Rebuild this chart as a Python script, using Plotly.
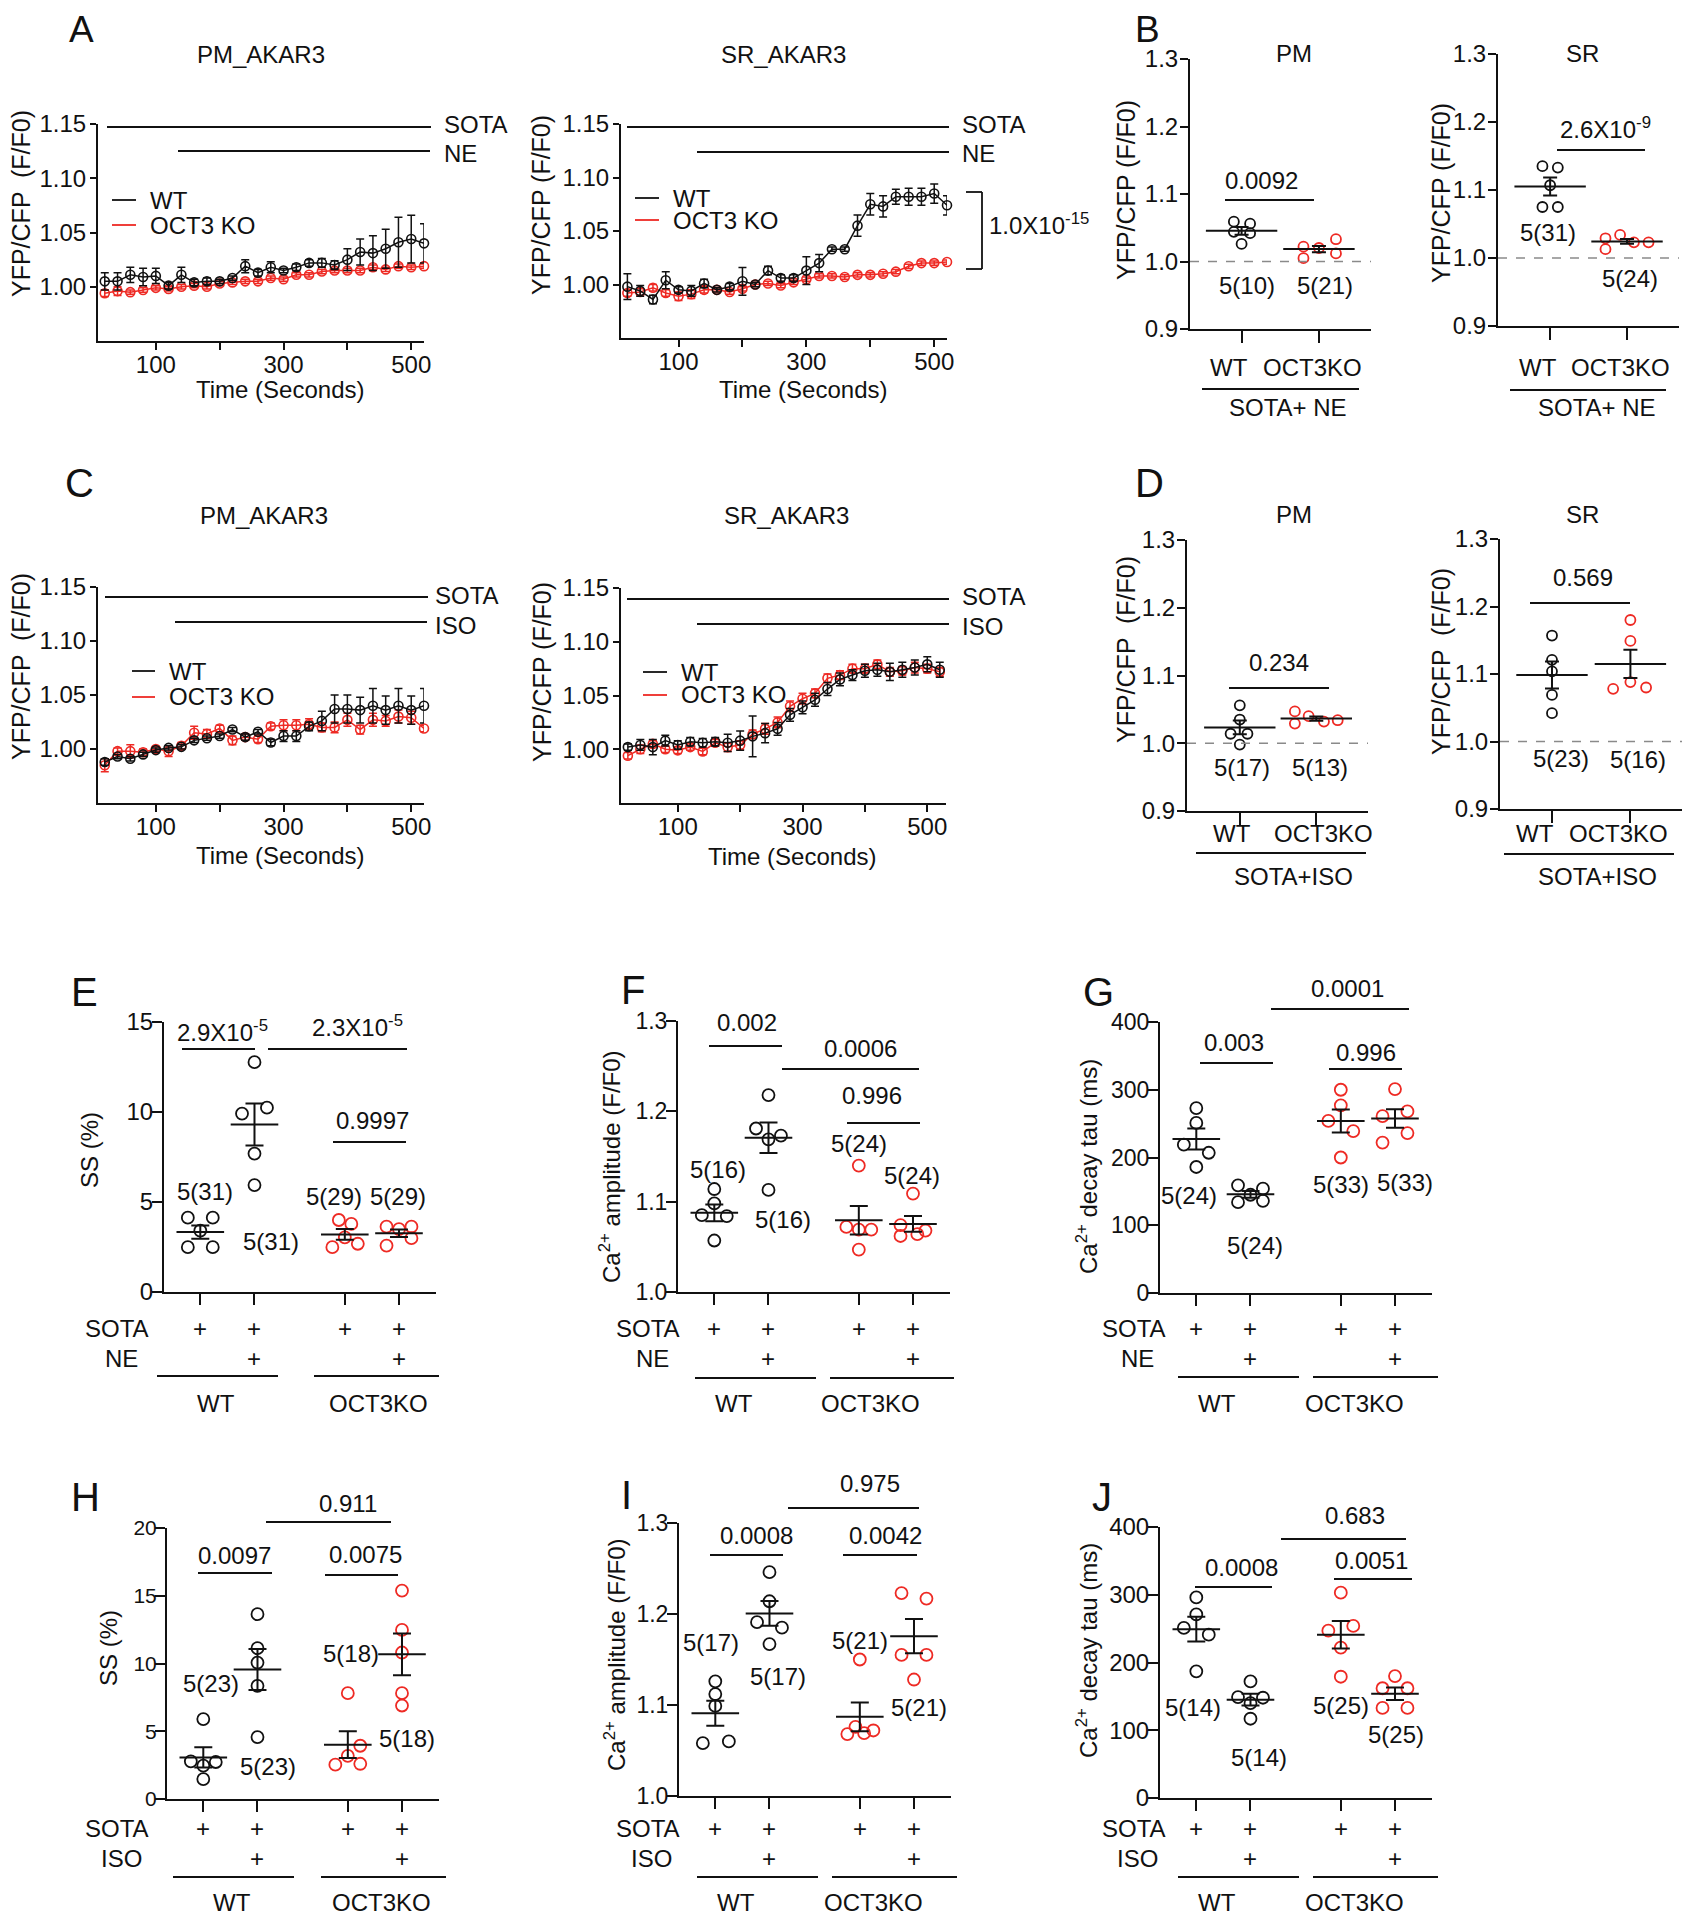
import numpy as np
import plotly.graph_objects as go

# target canvas (reference pixels) and the 8px page margin of the html body
W, H = 1691, 1920
OX, OY = 8, 8
WF, HF = W - OX, H - OY
FONT = "Liberation Sans, Arial, Helvetica, sans-serif"
INK = "#111111"
RED = "#ee2a24"
GREY = "#8a8a8a"

# ======================= DATA =======================
time_s = [20, 40, 60, 80, 100, 120, 140, 160, 180, 200, 220, 240, 260,
          280, 300, 320, 340, 360, 380, 400, 420, 440, 460, 480, 500, 520]
time_ticks = [100, 300, 500]
time_ticktext = ["100", "300", "500"]
time_minor = [200, 400]
fret_ticks = [1.00, 1.05, 1.10, 1.15]
fret_ticktext = ["1.00", "1.05", "1.10", "1.15"]

# A: SOTA + NE, PM_AKAR3
A_pm_wt = [1.005, 1.005, 1.011, 1.009, 1.010, 1.001, 1.011, 1.004, 1.005, 1.005, 1.008, 1.019, 1.013,
           1.018, 1.015, 1.018, 1.022, 1.022, 1.020, 1.025, 1.032, 1.031, 1.035, 1.041, 1.044, 1.040]
A_pm_wt_sem = [0.008, 0.008, 0.007, 0.008, 0.007, 0.003, 0.007, 0.003, 0.003, 0.002, 0.002, 0.006, 0.003,
               0.005, 0.002, 0.003, 0.003, 0.004, 0.004, 0.010, 0.012, 0.016, 0.018, 0.023, 0.022, 0.018]
A_pm_ko = [0.994, 0.996, 0.995, 0.997, 0.999, 0.998, 1.000, 1.001, 1.000, 1.003, 1.004, 1.005, 1.005,
           1.008, 1.007, 1.011, 1.011, 1.014, 1.015, 1.015, 1.015, 1.018, 1.016, 1.019, 1.018, 1.019]
A_pm_ko_sem = [0.003, 0.004, 0.002, 0.002, 0.002, 0.002, 0.002, 0.002, 0.002, 0.002, 0.002, 0.002, 0.002,
               0.002, 0.002, 0.002, 0.002, 0.002, 0.002, 0.002, 0.002, 0.002, 0.002, 0.002, 0.002, 0.002]
# A: SOTA + NE, SR_AKAR3
A_sr_wt = [0.998, 0.994, 0.986, 1.004, 0.995, 0.994, 1.001, 0.995, 0.998, 1.003, 1.000, 1.013, 1.006,
           1.006, 1.013, 1.020, 1.033, 1.033, 1.055, 1.075, 1.073, 1.082, 1.082, 1.082, 1.085, 1.074]
A_sr_wt_sem = [0.012, 0.005, 0.004, 0.008, 0.003, 0.005, 0.004, 0.002, 0.003, 0.013, 0.002, 0.004, 0.003,
               0.003, 0.013, 0.008, 0.002, 0.002, 0.010, 0.010, 0.010, 0.007, 0.008, 0.008, 0.009, 0.009]
A_sr_ko = [0.992, 0.993, 0.997, 0.992, 0.989, 0.991, 0.995, 0.995, 0.993, 0.996, 1.000, 1.001, 0.999,
           1.002, 1.005, 1.008, 1.008, 1.007, 1.009, 1.009, 1.010, 1.012, 1.017, 1.020, 1.020, 1.021]
A_sr_ko_sem = [0.003, 0.003, 0.003, 0.003, 0.004, 0.004, 0.003, 0.002, 0.002, 0.002, 0.002, 0.002, 0.002,
               0.002, 0.002, 0.002, 0.002, 0.002, 0.002, 0.002, 0.002, 0.002, 0.002, 0.002, 0.002, 0.002]
# C: SOTA + ISO, PM_AKAR3
C_pm_wt = [0.988, 0.993, 0.991, 0.995, 0.999, 1.001, 1.002, 1.008, 1.010, 1.012, 1.018, 1.011, 1.016,
           1.006, 1.012, 1.012, 1.021, 1.026, 1.037, 1.037, 1.036, 1.040, 1.036, 1.040, 1.036, 1.040]
C_pm_wt_sem = [0.003, 0.002, 0.002, 0.002, 0.002, 0.002, 0.002, 0.002, 0.002, 0.002, 0.002, 0.003, 0.002,
               0.003, 0.005, 0.005, 0.004, 0.009, 0.013, 0.013, 0.012, 0.016, 0.013, 0.016, 0.013, 0.016]
C_pm_ko = [0.985, 0.998, 0.998, 0.997, 1.000, 0.998, 1.003, 1.015, 1.014, 1.019, 1.008, 1.011, 1.009,
           1.021, 1.022, 1.022, 1.023, 1.020, 1.020, 1.027, 1.018, 1.027, 1.026, 1.030, 1.029, 1.019]
C_pm_ko_sem = [0.006, 0.003, 0.006, 0.003, 0.002, 0.005, 0.003, 0.006, 0.004, 0.003, 0.004, 0.003, 0.003,
               0.003, 0.005, 0.005, 0.005, 0.004, 0.005, 0.006, 0.004, 0.006, 0.005, 0.006, 0.006, 0.003]
# C: SOTA + ISO, SR_AKAR3
C_sr_wt = [1.002, 1.004, 1.002, 1.008, 1.004, 1.007, 1.006, 1.007, 1.006, 1.008, 1.012, 1.015, 1.019,
           1.032, 1.039, 1.046, 1.056, 1.065, 1.069, 1.073, 1.074, 1.072, 1.074, 1.076, 1.079, 1.074]
C_sr_wt_sem = [0.003, 0.005, 0.007, 0.005, 0.004, 0.004, 0.004, 0.004, 0.008, 0.009, 0.019, 0.009, 0.006,
               0.006, 0.006, 0.006, 0.006, 0.006, 0.005, 0.006, 0.006, 0.008, 0.007, 0.007, 0.007, 0.007]
C_sr_ko = [0.994, 1.000, 1.005, 1.000, 0.999, 1.002, 0.998, 1.006, 1.002, 1.004, 1.014, 1.019, 1.025,
           1.040, 1.047, 1.052, 1.066, 1.069, 1.075, 1.075, 1.079, 1.072, 1.073, 1.076, 1.075, 1.072]
C_sr_ko_sem = [0.003, 0.004, 0.003, 0.003, 0.003, 0.003, 0.003, 0.003, 0.004, 0.004, 0.004, 0.005, 0.005,
               0.005, 0.005, 0.004, 0.004, 0.004, 0.004, 0.004, 0.004, 0.004, 0.004, 0.005, 0.004, 0.004]

# B / D: YFP/CFP (F/F0) per animal
B_pm_wt = [1.059, 1.056, 1.044, 1.042, 1.026]
B_pm_ko = [1.022, 1.033, 1.020, 1.005, 1.012]
B_sr_wt = [1.135, 1.133, 1.107, 1.075, 1.075]
B_sr_ko = [1.029, 1.034, 1.013, 1.023, 1.023]
D_pm_wt = [1.056, 1.035, 1.014, 1.014, 0.998]
D_pm_ko = [1.047, 1.040, 1.029, 1.032, 1.034]
D_sr_wt = [1.157, 1.121, 1.104, 1.069, 1.042]
D_sr_ko = [1.180, 1.149, 1.078, 1.088, 1.080]
ratio_ticks = [0.9, 1.0, 1.1, 1.2, 1.3]
ratio_ticktext = ["0.9", "1.0", "1.1", "1.2", "1.3"]

# E-J: groups WT SOTA, WT SOTA+drug, KO SOTA, KO SOTA+drug
E_ss = [[4.13, 4.13, 3.41, 2.49, 2.49], [12.77, 9.91, 10.24, 7.69, 5.94],
        [4.00, 3.78, 3.04, 2.49, 2.68], [3.63, 3.49, 3.63, 2.58, 2.99]]
F_amp = [[1.114, 1.098, 1.085, 1.084, 1.057], [1.218, 1.181, 1.173, 1.169, 1.113],
         [1.140, 1.072, 1.069, 1.069, 1.047], [1.109, 1.074, 1.068, 1.062, 1.064]]
G_tau = [[273, 251, 219, 207, 186], [159, 154, 145, 134, 136],
         [300, 277, 254, 239, 200], [301, 268, 261, 236, 222]]
H_ss = [[5.90, 2.78, 2.73, 2.46, 1.47], [13.64, 11.13, 10.07, 8.35, 4.57],
        [7.81, 3.93, 3.19, 2.53, 2.60], [15.38, 12.48, 10.81, 7.81, 6.90]]
I_amp = [[1.126, 1.112, 1.099, 1.058, 1.060], [1.246, 1.214, 1.191, 1.185, 1.167],
         [1.150, 1.076, 1.068, 1.069, 1.072], [1.223, 1.217, 1.155, 1.155, 1.128]]
J_tau = [[296, 271, 251, 241, 187], [172, 149, 148, 140, 117],
         [303, 254, 247, 222, 179], [180, 162, 162, 133, 133]]
group_pos = [0, 1, 2.667, 3.667]

# ======================= LAYOUT / STYLE =======================
# horizontal beeswarm offsets (category units)
B_pm_wt_off = [-0.10, 0.11, -0.10, 0.11, 0.0]
B_pm_ko_off = [-0.20, 0.22, 0.0, -0.20, 0.22]
B_sr_wt_off = [-0.10, 0.10, 0.0, -0.10, 0.10]
B_sr_ko_off = [-0.28, -0.09, -0.28, 0.09, 0.28]
D_pm_wt_off = [0.0, 0.0, -0.12, 0.10, 0.0]
D_pm_ko_off = [-0.28, -0.10, -0.28, 0.10, 0.28]
D_sr_wt_off = [0.0, 0.0, 0.0, 0.0, 0.0]
D_sr_ko_off = [0.0, 0.0, -0.22, 0.0, 0.20]
E_off = [[-0.23, 0.23, 0, -0.23, 0.23], [0, -0.23, 0.23, 0, 0],
         [-0.11, 0.12, 0, -0.23, 0.24], [-0.23, 0, 0.23, -0.23, 0.23]]
F_off = [[0, 0, -0.23, 0.23, 0], [0, -0.23, 0.23, 0, 0],
         [0, -0.23, 0, 0.23, 0], [0, -0.23, 0.23, -0.23, 0.08]]
G_off = [[0, 0, -0.23, 0.23, 0], [-0.23, 0.23, 0, -0.23, 0.23],
         [0, 0, -0.23, 0.23, 0], [0, 0.23, -0.23, 0.23, -0.23]]
H_off = [[0, -0.23, 0.23, 0, 0], [0, 0, 0, 0, 0],
         [0, 0.23, 0, -0.23, 0.23], [0, 0, 0, 0, 0]]
I_off = [[0, 0, 0, -0.23, 0.25], [0, 0, -0.23, 0.23, 0],
         [0, -0.08, -0.23, 0.08, 0.25], [-0.23, 0.23, -0.23, 0.23, 0]]
J_off = [[0, 0, -0.23, 0.23, 0], [0, -0.23, 0.23, 0, 0],
         [0, 0.23, -0.23, 0, 0], [0, -0.23, 0.23, -0.23, 0.23]]

fig = go.Figure()
LAYOUT = dict(width=WF, height=HF, margin=dict(l=0, r=0, t=0, b=0, pad=0), autosize=False,
              paper_bgcolor="white", plot_bgcolor="white", showlegend=False)
shapes, annos = [], []


def PX(x):
    return (x - OX) / WF


def PY(y):
    return 1 - (y - OY) / HF


def txt(x, y, s, size, xa="center", ya="middle", angle=0, color=INK):
    annos.append(dict(x=PX(x), y=PY(y), xref="paper", yref="paper", text=s, showarrow=False,
                      xanchor=xa, yanchor=ya, textangle=angle, borderpad=0,
                      font=dict(family=FONT, size=size, color=color)))


def seg(x0, y0, x1, y1, color=INK, width=2):
    shapes.append(dict(type="line", xref="paper", yref="paper", x0=PX(x0), y0=PY(y0),
                       x1=PX(x1), y1=PY(y1), line=dict(color=color, width=width)))


def axes(n, box, xr, yr, xt, yt, xlen, ylen, tfont, xminor=None, xstand=0, ystand=0):
    left, right, top, bottom = box
    sfx = "" if n == 1 else str(n)
    base = dict(showline=True, linecolor=INK, linewidth=2, ticks="outside", tickwidth=2,
                tickcolor=INK, showgrid=False, zeroline=False, fixedrange=True, tickmode="array",
                automargin=False, tickfont=dict(family=FONT, size=tfont, color=INK))
    xd = dict(base, domain=[PX(left), PX(right)], range=xr, anchor="y" + sfx,
              tickvals=xt[0], ticklen=xlen, ticklabelstandoff=xstand)
    if xt[1] is None:
        xd["showticklabels"] = False
    else:
        xd["ticktext"] = xt[1]
    if xminor is not None:
        xd["minor"] = dict(tickmode="array", tickvals=xminor, ticks="outside", ticklen=xlen,
                           tickwidth=2, tickcolor=INK, showgrid=False)
    LAYOUT["xaxis" + sfx] = xd
    LAYOUT["yaxis" + sfx] = dict(base, domain=[PY(bottom), PY(top)], range=yr, anchor="x" + sfx,
                                 tickvals=yt[0], ticktext=yt[1], ticklen=ylen,
                                 ticklabelstandoff=ystand)
    return "x" + sfx, "y" + sfx


def ts_panel(n, box, xr, wt, wt_sem, ko, ko_sem):
    xa, ya = axes(n, box, xr, [0.95, 1.15], (time_ticks, time_ticktext),
                  (fret_ticks, fret_ticktext), 7, 6, 24, xminor=time_minor, xstand=-6, ystand=-1)
    for vals, sem, col in ((ko, ko_sem, RED), (wt, wt_sem, INK)):
        fig.add_trace(go.Scatter(
            x=time_s, y=vals, xaxis=xa, yaxis=ya, mode="lines+markers",
            line=dict(color=col, width=1.5),
            marker=dict(symbol="circle-open", size=9, color=col, line=dict(width=1.6, color=col)),
            error_y=dict(type="data", array=sem, color=col, thickness=1.5, width=4),
            cliponaxis=False, hoverinfo="skip"))


def dot_group(xa, ya, cat, vals, offs, col, msize, meanw, capw):
    fig.add_trace(go.Scatter(
        x=[cat + o for o in offs], y=vals, xaxis=xa, yaxis=ya, mode="markers",
        marker=dict(symbol="circle-open", size=msize, color=col, line=dict(width=1.8, color=col)),
        cliponaxis=False, hoverinfo="skip"))
    m = float(np.mean(vals))
    s = float(np.std(vals, ddof=1) / np.sqrt(len(vals)))
    fig.add_trace(go.Scatter(
        x=[cat], y=[m], xaxis=xa, yaxis=ya, mode="markers",
        marker=dict(symbol="line-ew", size=meanw, color=INK, line=dict(width=2, color=INK)),
        error_y=dict(type="data", array=[s], color=INK, thickness=2, width=capw),
        cliponaxis=False, hoverinfo="skip"))


# ---------------- A / C time courses ----------------
ts_panel(1, (98, 424, 124, 341), [9.4, 520], A_pm_wt, A_pm_wt_sem, A_pm_ko, A_pm_ko_sem)
ts_panel(2, (621, 947, 124, 338), [10, 520], A_sr_wt, A_sr_wt_sem, A_sr_ko, A_sr_ko_sem)
ts_panel(3, (98, 424, 587, 803), [9.4, 520], C_pm_wt, C_pm_wt_sem, C_pm_ko, C_pm_ko_sem)
ts_panel(4, (621, 946, 588, 803), [9, 530], C_sr_wt, C_sr_wt_sem, C_sr_ko, C_sr_ko_sem)

ts_deco = [
    # title, title pos, ytitle, ytitle pos, xtitle pos, drug lines, legend
    ("PM_AKAR3", (261, 55), "YFP/CFP  (F/F0)", (21, 204), (280, 390),
     [("SOTA", 107, 431, 127, 443, 124), ("NE", 178, 430, 151, 443, 154)], (112, 136, 149, 200, 225)),
    ("SR_AKAR3", (783, 55), "YFP/CFP (F/F0)", (541, 205), (803, 390),
     [("SOTA", 627, 949, 127, 961, 124), ("NE", 697, 949, 152, 961, 154)], (635, 659, 672, 198, 220)),
    ("PM_AKAR3", (264, 515), "YFP/CFP  (F/F0)", (21, 667), (280, 856),
     [("SOTA", 105, 428, 597, 434, 595), ("ISO", 175, 427, 622, 434, 625)], (132, 155, 168, 671, 697)),
    ("SR_AKAR3", (786, 515), "YFP/CFP (F/F0)", (542, 672), (792, 857),
     [("SOTA", 627, 949, 599, 961, 596), ("ISO", 697, 949, 624, 961, 626)], (643, 667, 680, 672, 695)),
]
for title, tp, ytitle, yp, xp, drugs, leg in ts_deco:
    txt(tp[0], tp[1], title, 24)
    txt(yp[0], yp[1], ytitle, 25, angle=-90)
    txt(xp[0], xp[1], "Time (Seconds)", 24)
    for name, x0, x1, ly, tx, ty in drugs:
        seg(x0, ly, x1, ly, width=1.8)
        txt(tx, ty, name, 24, xa="left")
    lx0, lx1, ltx, y1, y2 = leg
    seg(lx0, y1, lx1, y1, INK, 1.8)
    seg(lx0, y2, lx1, y2, RED, 1.8)
    txt(ltx, y1, "WT", 24, xa="left")
    txt(ltx, y2, "OCT3 KO", 24, xa="left")

# bracket with p value (A right)
seg(982, 192, 982, 269, width=1.8)
seg(966, 192, 982, 192, width=1.8)
seg(966, 269, 982, 269, width=1.8)
txt(988, 224, "1.0X10<sup>-15</sup>", 24, xa="left")

# ---------------- B / D dot plots ----------------
bd_panels = [
    (5, (1190, 1371, 59, 329), [-0.667, 1.673], B_pm_wt, B_pm_wt_off, B_pm_ko, B_pm_ko_off,
     "PM", (1294, 54), "YFP/CFP (F/F0)", (1126, 190), [(1225, 1314, 200, "0.0092", 1261, 180)],
     [("5(10)", 1247, 285), ("5(21)", 1325, 285)],
     (1229, 1312, 367, 1202, 1359, 389, "SOTA+ NE", 1288, 407)),
    (6, (1498, 1679, 54, 326), [-0.678, 1.676], B_sr_wt, B_sr_wt_off, B_sr_ko, B_sr_ko_off,
     "SR", (1582, 54), "YFP/CFP (F/F0)", (1441, 193),
     [(1557, 1645, 150, "2.6X10<sup>-9</sup>", 1605, 128)],
     [("5(31)", 1548, 233), ("5(24)", 1630, 278)],
     (1538, 1620, 367, 1510, 1666, 390, "SOTA+ NE", 1597, 407)),
    (7, (1187, 1368, 540, 811), [-0.69, 1.676], D_pm_wt, D_pm_wt_off, D_pm_ko, D_pm_ko_off,
     "PM", (1294, 514), "YFP/CFP  (F/F0)", (1126, 650), [(1229, 1329, 688, "0.234", 1279, 662)],
     [("5(17)", 1242, 767), ("5(13)", 1320, 767)],
     (1232, 1323, 833, 1196, 1366, 853, "SOTA+ISO", 1293, 876)),
    (8, (1500, 1682, 539, 809), [-0.663, 1.658], D_sr_wt, D_sr_wt_off, D_sr_ko, D_sr_ko_off,
     "SR", (1582, 514), "YFP/CFP  (F/F0)", (1441, 662), [(1530, 1630, 603, "0.569", 1583, 578)],
     [("5(23)", 1561, 758), ("5(16)", 1638, 759)],
     (1535, 1618, 833, 1504, 1674, 854, "SOTA+ISO", 1597, 876)),
]
for (n, box, xr, wt, wt_off, ko, ko_off, title, tp, ytitle, yp, sigs, nlabs, grp) in bd_panels:
    xa, ya = axes(n, box, xr, [0.9, 1.3], ([0, 1], None),
                  (ratio_ticks, ratio_ticktext), 12, 8, 24, ystand=-3)
    shapes.append(dict(type="line", xref=xa + " domain", yref=ya, x0=0, x1=1, y0=1.0, y1=1.0,
                       line=dict(color=GREY, width=1.5, dash="dash")))
    dot_group(xa, ya, 0, wt, wt_off, INK, 10, 51, 7)
    dot_group(xa, ya, 1, ko, ko_off, RED, 10, 51, 7)
    txt(tp[0], tp[1], title, 24)
    txt(yp[0], yp[1], ytitle, 25, angle=-90)
    for x0, x1, y, lab, lx, ly in sigs:
        seg(x0, y, x1, y, width=1.8)
        txt(lx, ly, lab, 24)
    for lab, lx, ly in nlabs:
        txt(lx, ly, lab, 24)
    wx, kx, gy, ux0, ux1, uy, treat, tx, ty = grp
    txt(wx, gy, "WT", 24)
    txt(kx, gy, "OCT3KO", 24)
    seg(ux0, uy, ux1, uy, width=1.8)
    txt(tx, ty, treat, 24)

# ---------------- E - J ----------------
lower = [
    (9, "E", (84, 992), (164, 436, 1022, 1292), [0, 15], [0, 5, 10, 15], ["0", "5", "10", "15"], 24,
     E_ss, E_off, "SS (%)", (89, 1150), "NE",
     [(182, 255, 1049, "2.9X10<sup>-5</sup>", 222, 1031), (268, 407, 1049, "2.3X10<sup>-5</sup>", 357, 1026),
      (333, 406, 1142, "0.9997", 372, 1120)],
     [("5(31)", 205, 1191), ("5(31)", 271, 1241), ("5(29)", 334, 1196), ("5(29)", 398, 1196)],
     (1328, 1358, 117, 121, 157, 278, 314, 439, 1376, 216, 378, 1403)),
    (10, "F", (633, 990), (678, 950, 1021, 1292), [1.0, 1.3], [1.0, 1.1, 1.2, 1.3], ["1.0", "1.1", "1.2", "1.3"], 23,
     F_amp, F_off, "Ca<sup>2+</sup> amplitude (F/F0)", (610, 1167), "NE",
     [(709, 782, 1046, "0.002", 747, 1022), (782, 919, 1069, "0.0006", 860, 1048),
      (847, 920, 1123, "0.996", 872, 1095)],
     [("5(16)", 718, 1169), ("5(16)", 783, 1219), ("5(24)", 859, 1143), ("5(24)", 912, 1175)],
     (1328, 1358, 648, 652, 695, 816, 830, 954, 1378, 734, 871, 1403)),
    (11, "G", (1098, 992), (1160, 1432, 1022, 1293), [0, 400], [0, 100, 200, 300, 400],
     ["0", "100", "200", "300", "400"], 23,
     G_tau, G_off, "Ca<sup>2+</sup> decay tau (ms)", (1087, 1167), "NE",
     [(1271, 1409, 1009, "0.0001", 1347, 988), (1200, 1273, 1063, "0.003", 1234, 1042),
      (1329, 1402, 1069, "0.996", 1366, 1052)],
     [("5(24)", 1189, 1195), ("5(24)", 1255, 1245), ("5(33)", 1341, 1184), ("5(33)", 1405, 1182)],
     (1328, 1358, 1134, 1137, 1178, 1299, 1313, 1438, 1377, 1217, 1354, 1403)),
    (12, "H", (85, 1497), (167, 439, 1528, 1799), [0, 20], [0, 5, 10, 15, 20], ["0", "5", "10", "15", "20"], 21,
     H_ss, H_off, "SS (%)", (108, 1648), "ISO",
     [(266, 391, 1522, "0.911", 348, 1503), (198, 272, 1573, "0.0097", 234, 1555),
      (325, 398, 1575, "0.0075", 365, 1554)],
     [("5(23)", 211, 1683), ("5(23)", 268, 1766), ("5(18)", 351, 1653), ("5(18)", 407, 1738)],
     (1828, 1858, 117, 121, 173, 294, 321, 446, 1877, 232, 381, 1902)),
    (13, "I", (626, 1495), (679, 951, 1523, 1796), [1.0, 1.3], [1.0, 1.1, 1.2, 1.3], ["1.0", "1.1", "1.2", "1.3"], 23,
     I_amp, I_off, "Ca<sup>2+</sup> amplitude (F/F0)", (615, 1655), "ISO",
     [(788, 919, 1508, "0.975", 870, 1483), (710, 783, 1555, "0.0008", 756, 1535),
      (843, 917, 1555, "0.0042", 886, 1535)],
     [("5(17)", 711, 1642), ("5(17)", 778, 1676), ("5(21)", 860, 1640), ("5(21)", 919, 1707)],
     (1828, 1858, 648, 651, 697, 818, 832, 957, 1877, 736, 873, 1902)),
    (14, "J", (1102, 1497), (1160, 1432, 1527, 1798), [0, 400], [0, 100, 200, 300, 400],
     ["0", "100", "200", "300", "400"], 24,
     J_tau, J_off, "Ca<sup>2+</sup> decay tau (ms)", (1087, 1651), "ISO",
     [(1281, 1406, 1539, "0.683", 1355, 1515), (1195, 1272, 1587, "0.0008", 1241, 1567),
      (1334, 1412, 1579, "0.0051", 1371, 1560)],
     [("5(14)", 1193, 1707), ("5(14)", 1259, 1757), ("5(25)", 1341, 1705), ("5(25)", 1396, 1734)],
     (1828, 1858, 1134, 1137, 1178, 1299, 1313, 1438, 1877, 1217, 1354, 1902)),
]
XR = [-0.67, 4.35]
for (n, letter, lp, box, yr, yt, ytt, tfont, groups, offs, ytitle, yp, drug, sigs, nlabs, rows) in lower:
    xa, ya = axes(n, box, XR, yr, (group_pos, None), (yt, ytt), 11, 10, tfont, ystand=-6)
    cols = [INK, INK, RED, RED]
    for cat, vals, off, col in zip(group_pos, groups, offs, cols):
        dot_group(xa, ya, cat, vals, off, col, 12, 34, 9)
    txt(lp[0], lp[1], letter, 40)
    txt(yp[0], yp[1], ytitle, 24, angle=-90)
    for x0, x1, y, lab, lx, ly in sigs:
        seg(x0, y, x1, y, width=1.8)
        txt(lx, ly, lab, 24)
    for lab, lx, ly in nlabs:
        txt(lx, ly, lab, 24)
    r1, r2, sx, dx, wu0, wu1, ku0, ku1, uy, wlx, klx, gy = rows
    left = box[0]
    ppu = (box[1] - box[0]) / (XR[1] - XR[0])
    txt(sx, r1, "SOTA", 24)
    txt(dx, r2, drug, 24)
    for i, g in enumerate(group_pos):
        gx = left + (g - XR[0]) * ppu
        txt(gx, r1, "+", 24)
        if i in (1, 3):
            txt(gx, r2, "+", 24)
    seg(wu0, uy, wu1, uy, width=1.8)
    seg(ku0, uy, ku1, uy, width=1.8)
    txt(wlx, gy, "WT", 24)
    txt(klx, gy, "OCT3KO", 24)

# panel letters for top rows (kept just inside the canvas top)
for letter, x, y, sz in [("A", 81, 30, 37), ("B", 1147, 30, 37), ("C", 79, 483, 40), ("D", 1149, 483, 40)]:
    txt(x, y, letter, sz)

LAYOUT["shapes"] = shapes
LAYOUT["annotations"] = annos
fig.update_layout(**LAYOUT)
fig.write_html("out.html")
